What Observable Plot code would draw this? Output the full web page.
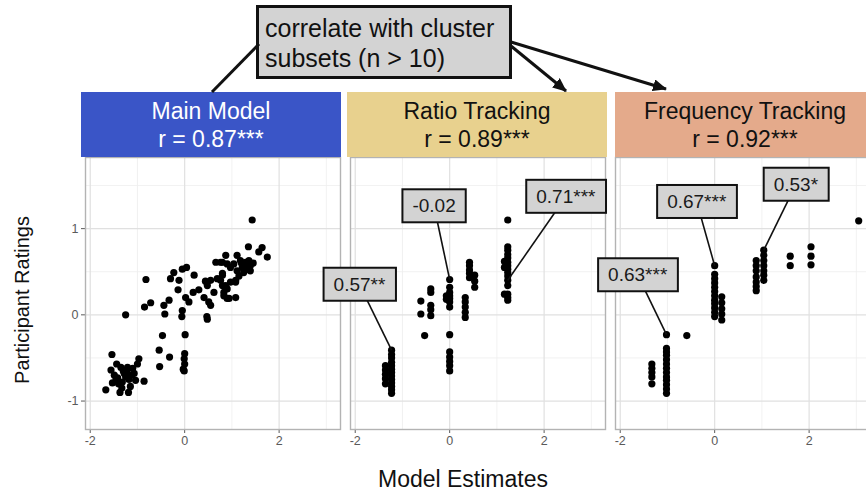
<!DOCTYPE html>
<html>
<head>
<meta charset="utf-8">
<script src="https://cdn.jsdelivr.net/npm/d3@7"></script>
<script src="https://cdn.jsdelivr.net/npm/@observablehq/plot@0.6"></script>
<style>
  html, body { margin: 0; padding: 0; background: #fff; }
  #wrap { position: relative; width: 866px; height: 492px; overflow: hidden; font-family: "Liberation Sans", Arial, sans-serif; }
  #chart { position: absolute; left: 0; top: 140px; width: 871px; }
  .strip { position: absolute; top: 92px; height: 65px; width: 260px; display: flex; flex-direction: column;
           justify-content: center; align-items: center; font-size: 23px; line-height: 28px; z-index: 2; }
  #note { position: absolute; left: 256px; top: 5px; width: 256px; height: 74px; box-sizing: border-box;
          border: 3px solid #111; background: #d3d3d3; padding: 5px 0 0 6px; font-size: 25px; line-height: 30px;
          color: #111; z-index: 3; }
  #arrows { position: absolute; left: 0; top: 0; z-index: 4; pointer-events: none; }
  #ytitle { position: absolute; left: 22px; top: 300px; transform: translate(-50%, -50%) rotate(-90deg);
            white-space: nowrap; font-size: 20px; line-height: 22px; color: #111; }
  #xtitle { position: absolute; left: 463px; top: 479px; transform: translate(-50%, -50%);
            white-space: nowrap; font-size: 23px; line-height: 24px; color: #111; }
</style>
</head>
<body>
<div id="wrap">
  <div id="chart"></div>
  <div id="ytitle">Participant Ratings</div>
  <div id="xtitle">Model Estimates</div>
  <div id="note">correlate with cluster<br>subsets (n &gt; 10)</div>
</div>
<script>
// ---------- data ----------
const panels = ["Main Model", "Ratio Tracking", "Frequency Tracking"];
const panelStats = ["r = 0.87***", "r = 0.89***", "r = 0.92***"];
const stripColors = ["#3a55c7", "#e8d18e", "#e4aa8b"];
const stripTextColors = ["#ffffff", "#111111", "#111111"];
const stripLeft = [81, 347, 615];

const xTicks = [-2, 0, 2];
const xMinor = [-1, 1, 3];
const yTicks = [-1, 0, 1];
const yMinor = [-0.5, 0.5, 1.5];

const mainX = [-1.54,-1.44,-1.56,-1.49,-1.67,-1.53,-1.37,-1.19,-1.32,-1.18,-1.04,-0.86,-1.21,-1.35,-1.00,-0.97,-1.07,-1.42,-1.28,-1.30,-1.25,-1.40,-1.15,-1.10,-1.45,-1.22,-1.12,-1.33,
  -0.54,-0.32,-0.53,-0.47,0.01,0.00,-0.01,0.00,-0.03,-0.01,-1.25,
  -0.82,-0.85,-0.72,-0.44,-0.42,-0.33,-0.23,-0.30,-0.12,-0.14,-0.05,0.04,0.20,-0.05,-0.06,0.02,0.09,0.18,0.30,0.41,0.51,0.55,0.47,0.48,0.48,0.55,0.62,0.69,0.80,0.83,0.90,0.80,0.66,0.80,0.90,1.08,1.08,0.90,0.44,
  1.43,1.35,1.64,1.57,1.75,0.87,1.11,0.76,1.04,1.18,1.29,1.36,1.39,1.33,1.22,1.11,1.25,1.39,0.97,0.80,0.76,0.87,0.97,1.08,0.83,0.94,1.30,1.20,1.15,1.45];
const mainY = [-0.46,-0.57,-0.64,-0.70,-0.87,-0.79,-0.90,-0.90,-0.78,-0.75,-0.76,-0.77,-0.61,-0.61,-0.57,-0.51,-0.68,-0.73,-0.68,-0.65,-0.72,-0.80,-0.83,-0.62,-0.75,-0.66,-0.70,-0.85,
  -0.41,-0.49,-0.60,-0.24,-0.23,-0.45,-0.51,-0.57,-0.63,-0.65,0.00,
  0.41,0.09,0.14,0.11,0.01,0.17,0.49,0.42,0.40,0.29,0.53,0.55,0.46,0.05,-0.02,0.20,0.15,0.26,0.29,0.20,0.15,0.11,-0.02,-0.05,0.34,0.40,0.26,0.42,0.34,0.26,0.19,0.46,0.61,0.61,0.59,0.20,0.38,0.30,0.39,
  1.10,0.79,0.78,0.73,0.67,0.69,0.69,0.61,0.59,0.63,0.61,0.63,0.57,0.53,0.55,0.51,0.49,0.51,0.55,0.48,0.40,0.34,0.38,0.40,0.22,0.19,0.58,0.60,0.45,0.60];

const ratioX = [-1.23,-1.23,-1.23,-1.23,-1.23,-1.23,-1.23,-1.23,-1.23,-1.23,-1.23,-1.23,-1.23,
  -1.36,-1.36,-1.36,-1.36,-1.36,
  -0.61,-0.61,
  -0.40,-0.40,-0.40,-0.40,-0.40,
  -0.53,
  0,0,0,0,0,0,0,0,0,0,0,0,0,
  -0.07,-0.07,
  0.33,0.33,0.33,0.33,0.33,
  0.42,0.42,0.42,0.42,0.42,
  0.53,0.53,0.53,
  1.23,1.23,1.23,1.23,1.23,1.23,1.23,1.23,1.23,1.23,1.23,1.23,1.23,1.23,1.23,
  1.16,1.16,1.16];
const ratioY = [-0.41,-0.46,-0.50,-0.55,-0.59,-0.63,-0.67,-0.71,-0.75,-0.79,-0.83,-0.87,-0.91,
  -0.59,-0.64,-0.69,-0.74,-0.80,
  0.16,0.01,
  0.30,0.26,0.11,0.06,-0.01,
  -0.24,
  0.41,0.32,0.26,0.22,0.19,0.15,0.09,-0.23,-0.43,-0.49,-0.54,-0.59,-0.65,
  0.22,0.18,
  0.20,0.15,0.09,0.03,-0.03,
  0.61,0.57,0.52,0.48,0.43,
  0.46,0.39,0.32,
  1.10,0.79,0.75,0.70,0.66,0.61,0.57,0.53,0.49,0.45,0.40,0.34,0.24,0.20,0.17,
  0.62,0.55,0.24];

const freqX = [-1.02,-1.02,-1.02,-1.02,-1.02,-1.02,-1.02,-1.02,-1.02,-1.02,-1.02,-1.02,-1.02,
  -1.33,-1.33,-1.33,-1.33,-1.33,
  -0.59,
  0,0,0,0,0,0,0,0,0,0,0,0,
  0.15,0.15,0.15,0.15,0.15,
  0.88,0.88,0.88,0.88,0.88,0.88,0.88,
  1.04,1.04,1.04,1.04,1.04,1.04,1.04,
  1.60,1.60,
  2.04,2.04,2.04,
  3.05];
const freqY = [-0.23,-0.39,-0.43,-0.47,-0.52,-0.57,-0.62,-0.67,-0.72,-0.76,-0.81,-0.86,-0.91,
  -0.57,-0.62,-0.67,-0.72,-0.80,
  -0.24,
  0.57,0.47,0.42,0.37,0.32,0.27,0.22,0.17,0.13,0.08,0.03,-0.02,
  0.21,0.14,0.07,0.01,-0.06,
  0.63,0.57,0.51,0.44,0.38,0.33,0.28,
  0.75,0.69,0.63,0.57,0.51,0.46,0.40,
  0.68,0.57,
  0.79,0.68,0.58,
  1.09];

const calloutPanel = ["Ratio Tracking","Ratio Tracking","Ratio Tracking","Frequency Tracking","Frequency Tracking","Frequency Tracking"];
const calloutText = ["0.57**","-0.02","0.71***","0.63***","0.67***","0.53*"];
const labelX = [-1.91,-0.33,2.46,-1.63,-0.38,1.72];
const labelY = [0.35,1.26,1.37,0.46,1.31,1.51];
const targetX = [-1.23,0,1.23,-1.02,0,1.04];
const targetY = [-0.41,0.41,0.40,-0.23,0.57,0.75];

// ---------- tables ----------
const points = [];
[[mainX, mainY], [ratioX, ratioY], [freqX, freqY]].forEach(([xs, ys], k) =>
  xs.forEach((x, i) => points.push({panel: panels[k], x, y: ys[i]})));
const callouts = calloutText.map((t, i) => ({
  panel: calloutPanel[i], label: t, lx: labelX[i], ly: labelY[i], px: targetX[i], py: targetY[i]
}));

// ---------- plot ----------
const chart = Plot.plot({
  width: 871, height: 352,
  marginTop: 17, marginBottom: 63, marginLeft: 85, marginRight: 1,
  style: {background: "transparent", fontSize: "12.5px", color: "#5a5a5a",
          fontFamily: "Liberation Sans, Arial, sans-serif", overflow: "visible"},
  fx: {domain: panels, paddingInner: 10 / 265, paddingOuter: 0, axis: null, label: null},
  x: {domain: [-2.1, 3.3], ticks: xTicks, tickSize: 4, tickPadding: 3, tickFormat: d => String(d), label: null},
  y: {domain: [-1.33, 1.825], ticks: yTicks, tickSize: 4, tickPadding: 3, tickFormat: d => String(d), label: null},
  marks: [
    Plot.gridX(xMinor, {stroke: "#eeeeee", strokeOpacity: 1, strokeWidth: 0.8}),
    Plot.gridY(yMinor, {stroke: "#eeeeee", strokeOpacity: 1, strokeWidth: 0.8}),
    Plot.gridX(xTicks, {stroke: "#e0e0e0", strokeOpacity: 1, strokeWidth: 1.2}),
    Plot.gridY(yTicks, {stroke: "#e0e0e0", strokeOpacity: 1, strokeWidth: 1.2}),
    Plot.frame({stroke: "#b3b3b3", strokeWidth: 1.4}),
    Plot.dot(points, {x: "x", y: "y", fx: "panel", r: 3.6, fill: "#000", stroke: "none"}),
    Plot.link(callouts, {x1: "lx", y1: "ly", x2: "px", y2: "py", fx: "panel", stroke: "#111", strokeWidth: 1.6}),
    Plot.text(callouts, {x: "lx", y: "ly", fx: "panel", text: "label", fontSize: 19, fill: "#1a1a1a",
                         fontFamily: "Liberation Sans, Arial, sans-serif"})
  ]
});
document.getElementById("chart").append(chart);

// label boxes behind callout texts (the only text mark in the plot)
chart.querySelectorAll('g[aria-label="text"] text').forEach(t => {
  const b = t.getBBox();
  const r = document.createElementNS("http://www.w3.org/2000/svg", "rect");
  r.setAttribute("x", b.x - 10);
  r.setAttribute("y", b.y - 6);
  r.setAttribute("width", b.width + 20);
  r.setAttribute("height", b.height + 12);
  r.setAttribute("fill", "#d3d3d3");
  r.setAttribute("stroke", "#111");
  r.setAttribute("stroke-width", "2");
  const tr = t.getAttribute("transform");
  if (tr) r.setAttribute("transform", tr);
  t.parentNode.insertBefore(r, t);
});

// facet strips
const wrap = document.getElementById("wrap");
panels.forEach((p, k) => {
  const d = document.createElement("div");
  d.className = "strip";
  d.style.left = stripLeft[k] + "px";
  d.style.background = stripColors[k];
  d.style.color = stripTextColors[k];
  d.innerHTML = `<div>${p}</div><div>${panelStats[k]}</div>`;
  wrap.append(d);
});

// connector arrows from the note box
const ns = "http://www.w3.org/2000/svg";
const svg = document.createElementNS(ns, "svg");
svg.setAttribute("id", "arrows");
svg.setAttribute("width", 866);
svg.setAttribute("height", 492);
svg.innerHTML = `
  <defs><marker id="ah" markerUnits="userSpaceOnUse" markerWidth="14" markerHeight="12" refX="13" refY="6" orient="auto">
    <path d="M0,0 L14,6 L0,12 Z" fill="#111"/></marker></defs>
  <line x1="259" y1="44" x2="212" y2="92" stroke="#111" stroke-width="3"/>
  <line x1="511" y1="46" x2="566" y2="91" stroke="#111" stroke-width="3" marker-end="url(#ah)"/>
  <line x1="511" y1="42" x2="666" y2="89" stroke="#111" stroke-width="3" marker-end="url(#ah)"/>`;
wrap.append(svg);
</script>
</body>
</html>
